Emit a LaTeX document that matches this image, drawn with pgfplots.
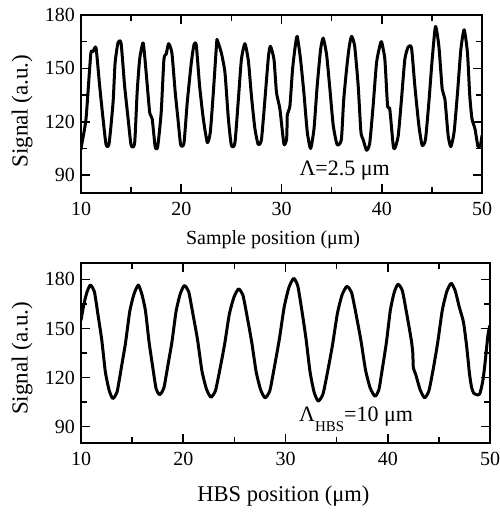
\documentclass[border=0pt]{standalone}
\usepackage{pgfplots}
\pgfplotsset{compat=1.18}
\usepackage{fontspec}
\setmainfont{Liberation Serif}

\pgfplotstableread{
x y
10.0 104
10.03 106
10.5 121.7
10.97 157.8
11.2 159.5
11.5 161.5
11.86 140.2
12.2 121.7
12.5 107.2
12.8 107.7
13.2 131
13.4 153
13.7 164.6
14.0 164
14.35 140.2
14.7 121.7
15.0 106.8
15.35 108
15.6 136.5
15.85 155
16.2 164.3
16.5 147.6
16.85 125.4
17.1 121.7
17.4 106
17.65 106
18.0 125.4
18.27 155
18.5 158
18.74 163.9
19.07 158.5
19.4 136.5
19.67 121.7
19.94 107.2
20.27 108
20.6 131
21.0 153
21.27 163.3
21.5 163
21.83 140.2
22.2 121.7
22.6 108.3
22.9 114.3
23.2 136.5
23.53 164.3
23.6 165.8
24.0 158.7
24.36 147.6
24.7 121.7
25.0 106.8
25.35 108
25.7 132.8
26.0 155
26.35 163.9
26.7 154
27.0 134.6
27.35 116
27.68 107.2
28.0 110
28.35 132.8
28.7 156.8
28.9 162.4
29.25 155
29.5 136.5
29.84 127.2
30.24 107.5
30.5 110
30.55 117
30.58 124
30.84 129
31.1 149.4
31.37 162.4
31.57 168
31.9 155
32.23 136.5
32.57 114.3
32.9 105
33.24 116
33.56 140.2
33.9 160.6
34.16 167
34.5 157.6
34.83 138.3
35.16 118
35.55 107.2
35.97 110
36.2 132
36.5 150
36.75 162
36.99 168
37.3 162.4
37.65 140.2
37.92 114.3
38.15 110
38.48 104
38.8 108
39.14 129
39.48 153.2
39.8 162.4
39.98 165
40.31 155
40.58 129
40.8 127.2
41.14 106.8
41.3 105
41.64 112
41.97 132.8
42.3 155
42.63 162
42.97 161.5
43.3 140.2
43.7 118
44.03 106.8
44.36 110
44.7 131
45.03 155
45.36 173.5
45.7 162.4
46.03 138.3
46.3 132.8
46.62 112.4
46.89 106
47.22 114.3
47.56 136.5
47.89 160.6
48.22 171.7
48.55 158.7
48.78 134.6
49.0 121.7
49.3 116
49.6 106
49.85 107
50.0 112.4
}\toptable

\pgfplotstableread{
x y
10.0 155
10.2 162
10.4 168
10.6 172.5
10.8 175.5
10.95 176.5
11.31 172.5
11.67 158
12.03 143
12.38 123.5
12.74 112.5
13.1 107.2
13.52 111
13.93 125.5
14.35 141
14.77 160.5
15.18 171
15.6 176.5
15.95 171
16.3 161
16.65 142
17.0 127
17.35 113
17.7 109.6
18.1 113.5
18.5 127.5
18.9 142
19.3 160.5
19.7 171
20.1 176.2
20.53 172.5
20.97 158
21.4 143
21.83 124
22.27 113
22.7 108
23.15 112
23.6 125.5
24.05 140.5
24.5 158.5
24.95 169
25.4 174.1
25.83 170.5
26.27 156.5
26.7 141.5
27.13 123.5
27.57 112.5
28.0 107.6
28.47 112
28.93 127
29.4 143.5
29.87 163
30.33 175
30.8 180.6
31.2 176
31.6 161
32.0 144
32.4 123.5
32.8 111
33.2 105.6
33.67 110
34.13 124
34.6 140
35.07 159
35.53 170.5
36.0 175.7
36.46 172
36.92 158
37.38 142.5
37.83 124.5
38.29 113.5
38.75 108.6
39.13 112.5
39.5 126.5
39.88 142
40.25 161
40.63 172
41.0 177
41.43 173
41.87 158.5
42.3 143
42.45 135
42.5 126
42.73 122
43.17 112.5
43.6 107.6
44.03 112
44.47 126
44.9 142
45.33 161
45.77 172.5
46.2 177.6
46.6 173
47.0 163
47.4 154
47.7 140
48.0 122
48.2 114
48.4 110.5
48.7 109.5
49.0 110
49.3 118
49.5 128
49.8 146
50.0 152
}\bottable

\pgfplotsset{
  myaxis/.style={
    scale only axis,
    xmin=10, xmax=50,
    xtick={10,20,30,40,50},
    xticklabels={10,20,30,40,50},
    minor xtick={15,25,35,45},
    ytick={90,120,150,180},
    yticklabels={90,120,150,180},
    minor ytick={105,135,165},
    tick align=inside,
    xtick pos=both, ytick pos=both,
    xticklabel pos=lower, yticklabel pos=left,
    major tick length=9pt,
    minor tick length=6pt,
    every tick/.style={line width=1.6pt, black},
    axis line style={line width=2.6pt},
    tick label style={font=\fontsize{20}{20}\selectfont},
    yticklabel style={xshift=-2.5pt},
    xticklabel style={yshift=-6pt},
    clip=true,
  }
}

\begin{document}
\begin{tikzpicture}[x=1pt,y=1pt]
\useasboundingbox (0,0) rectangle (499,513);
\begin{axis}[myaxis,
  at={(81pt,320pt)}, anchor=south west,
  width=401pt, height=178pt,
  ymin=80, ymax=180,
  xlabel={Sample position (μm)},
  xlabel style={font=\fontsize{20}{20}\selectfont, at={(axis description cs:0.479,-0.264)}, anchor=center},
  ylabel={Signal (a.u.)},
  ylabel style={font=\fontsize{23}{23}\selectfont, at={(axis description cs:-0.147,0.46)}, anchor=center, rotate=0},
]
\addplot[black, line width=3pt, line join=round, smooth, tension=0.35] table[x=x,y=y] {\toptable};
\node[font=\fontsize{22}{22}\selectfont] at (axis cs:36.3,92.8) {Λ=2.5 μm};
\end{axis}

\begin{axis}[myaxis,
  at={(81pt,70pt)}, anchor=south west,
  width=409pt, height=180pt,
  ymin=80, ymax=190,
  xlabel={HBS position (μm)},
  xlabel style={font=\fontsize{22.5}{22.5}\selectfont, at={(axis description cs:0.495,-0.294)}, anchor=center},
  ylabel={Signal (a.u.)},
  ylabel style={font=\fontsize{23}{23}\selectfont, at={(axis description cs:-0.144,0.47)}, anchor=center, rotate=0},
]
\addplot[black, line width=3pt, line join=round, smooth, tension=0.35] table[x=x,y=y] {\bottable};
\node[font=\fontsize{22}{22}\selectfont] at (axis cs:36.9,94.5) {Λ\raisebox{-0.45em}{\fontsize{15}{15}\selectfont HBS}=10 μm};
\end{axis}
\end{tikzpicture}
\end{document}
